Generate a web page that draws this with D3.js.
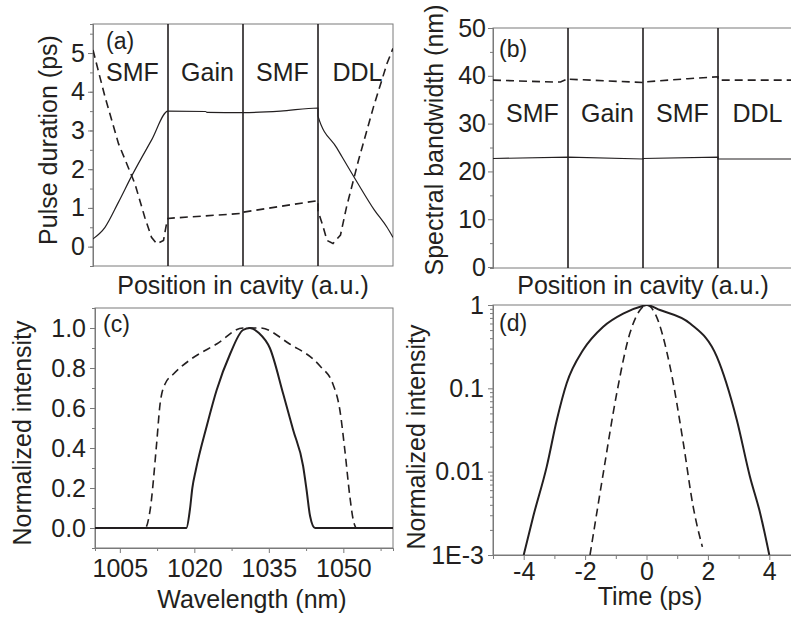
<!DOCTYPE html>
<html>
<head>
<meta charset="utf-8">
<script src="https://cdn.jsdelivr.net/npm/d3@7"></script>
<style>
  body { margin: 0; background: #fff; }
  svg { font-family: "Liberation Sans", Arial, sans-serif; }
  .tick text { fill: #231f20; }
</style>
</head>
<body>
<svg id="fig" width="791" height="618"></svg>
<script>
// cavity sections
var sections = ["SMF", "Gain", "SMF", "DDL"];

// (a) pulse duration vs position
var durSolidX = [0, 0.16, 0.34, 0.52, 0.78, 1.0, 1.5, 1.52, 2.0, 2.5, 3.0, 3.0, 3.25, 3.52, 3.75, 3.92, 4.0];
var durSolidY = [0.2, 0.5, 1.15, 1.84, 2.75, 3.5, 3.49, 3.47, 3.46, 3.5, 3.58, 3.37, 2.55, 1.67, 0.95, 0.5, 0.24];
var durDashX = [0, 0.08, 0.16, 0.34, 0.56, 0.69, 0.78, 0.85, 0.94, 0.98, 1.0, 1.0, 2.0, 2.0, 3.0, 3.0, 3.07, 3.12, 3.2, 3.3, 3.38, 3.54, 3.74, 3.92, 4.0];
var durDashY = [5.08, 4.47, 3.87, 2.66, 1.62, 0.76, 0.24, 0.07, 0.16, 0.59, 0.72, 0.73, 0.86, 0.89, 1.19, 0.93, 0.5, 0.16, 0.08, 0.3, 1.02, 2.23, 3.61, 4.73, 5.12];

// (b) spectral bandwidth vs position
var bwSolidX = [0, 1, 1, 2, 2, 3, 3, 4];
var bwSolidY = [22.7, 23.0, 23.0, 22.6, 22.7, 23.0, 22.6, 22.6];
var bwDashX = [0, 0.8, 0.9, 1.0, 1.0, 2.0, 2.0, 2.6, 3.0, 3.0, 4.0];
var bwDashY = [39.1, 38.7, 38.7, 39.4, 39.3, 38.6, 38.7, 39.4, 39.8, 39.1, 39.1];

// (c) spectra
var specSolidX = [1000, 1018.4, 1019.1, 1019.6, 1020.3, 1022.5, 1024.5, 1027.2, 1029.8, 1031.2, 1033, 1035.2, 1037.9, 1039.9, 1041.9, 1042.6, 1043.3, 1044.3, 1060];
var specSolidY = [0, 0, 0.09, 0.2, 0.29, 0.51, 0.69, 0.87, 0.99, 1.0, 0.975, 0.9, 0.67, 0.49, 0.31, 0.19, 0.06, 0, 0];
var specDashX = [1000, 1010.1, 1011.1, 1012.4, 1013.1, 1014.1, 1015.8, 1019.1, 1024.5, 1029.8, 1031.5, 1033.2, 1039.2, 1045.3, 1047.9, 1049.3, 1050.3, 1051.3, 1052, 1052.7, 1060];
var specDashY = [0, 0, 0.09, 0.42, 0.62, 0.72, 0.77, 0.84, 0.92, 1.0, 1.0, 1.0, 0.92, 0.81, 0.72, 0.59, 0.39, 0.16, 0.04, 0, 0];

// (d) temporal profiles (log)
var tSolid = [-4, -3.69, -3.25, -2.92, -2.6, -2.06, -1.41, -0.76, -0.1, 0, 0.44, 1.42, 2.29, 2.94, 3.37, 3.7, 4.0];
var iSolid = [0.001, 0.0029, 0.0115, 0.042, 0.115, 0.29, 0.55, 0.79, 0.98, 1.0, 0.87, 0.6, 0.24, 0.042, 0.0087, 0.0032, 0.001];
var tDash = [-1.84, -1.41, -0.97, -0.54, -0.21, 0, 0.28, 0.77, 1.2, 1.52, 1.82];
var iDash = [0.001, 0.0095, 0.087, 0.46, 0.87, 1.0, 0.79, 0.18, 0.022, 0.0038, 0.00125];

// tick labels
var durTicks = [0, 1, 2, 3, 4, 5];
var bwTicks = [0, 10, 20, 30, 40, 50];
var specYTicks = [0, 0.2, 0.4, 0.6, 0.8, 1.0];
var specXTicks = [1005, 1020, 1035, 1050];
var timeTicks = [-4, -2, 0, 2, 4];
var logTicks = [1, 0.1, 0.01, 0.001];
var logLabels = ["1", "0.1", "0.01", "1E-3"];

var INK = "#231f20";
var FRAME = "#7a7a7a";
var TICK_FS = 25;
var svg = d3.select("#fig");

function zip(xs, ys) {
  return xs.map(function(x, i) { return [x, ys[i]]; });
}

function plain(d) { return String(d); }

function drawFrame(g, x, y) {
  var r = x.range(), s = y.range();
  g.append("rect")
    .attr("x", r[0]).attr("y", s[1])
    .attr("width", r[1] - r[0]).attr("height", s[0] - s[1])
    .attr("fill", "none").attr("stroke", FRAME).attr("stroke-width", 1);
}

function styleAxis(sel) {
  sel.selectAll(".domain").attr("stroke", FRAME);
  sel.selectAll(".tick line").attr("stroke", FRAME);
  sel.selectAll(".tick text").attr("font-size", TICK_FS + "px").attr("fill", INK);
}

function clipFor(id, x, y) {
  var r = x.range(), s = y.range();
  svg.append("clipPath").attr("id", id).append("rect")
    .attr("x", r[0]).attr("y", s[1])
    .attr("width", r[1] - r[0]).attr("height", s[0] - s[1]);
  return "url(#" + id + ")";
}

function drawLine(g, x, y, pts, dashed, width, curve, clip) {
  var line = d3.line()
    .x(function(d) { return x(d[0]); })
    .y(function(d) { return y(d[1]); })
    .curve(curve || d3.curveLinear);
  g.append("path")
    .datum(pts)
    .attr("d", line)
    .attr("fill", "none")
    .attr("stroke", INK)
    .attr("stroke-width", width)
    .attr("stroke-dasharray", dashed ? "8,5" : null)
    .attr("clip-path", clip);
}

function vLabel(text, cx, cy) {
  svg.append("text")
    .attr("transform", "translate(" + cx + "," + cy + ") rotate(-90)")
    .attr("text-anchor", "middle")
    .attr("font-size", "25px")
    .attr("fill", INK)
    .text(text);
}

function hLabel(text, cx, cy) {
  svg.append("text")
    .attr("x", cx).attr("y", cy)
    .attr("text-anchor", "middle")
    .attr("font-size", "25px")
    .attr("fill", INK)
    .text(text);
}

function panelTag(text, px, py) {
  svg.append("text")
    .attr("x", px).attr("y", py)
    .attr("font-size", "23px")
    .attr("fill", INK)
    .text(text);
}

function sectionLines(g, x, y, labelY) {
  var s = y.range();
  [1, 2, 3].forEach(function(v) {
    g.append("line")
      .attr("x1", x(v)).attr("x2", x(v))
      .attr("y1", s[0]).attr("y2", s[1])
      .attr("stroke", INK).attr("stroke-width", 1.6);
  });
  g.selectAll(".sec").data(sections).enter().append("text")
    .attr("x", function(d, i) { return x(i + 0.5) + 2; })
    .attr("y", labelY)
    .attr("text-anchor", "middle")
    .attr("font-size", "25px")
    .attr("fill", INK)
    .text(function(d) { return d; });
}

// ---------- (a) ----------
(function() {
  var g = svg.append("g");
  var x = d3.scaleLinear().domain([0, 4]).range([93, 393]);
  var y = d3.scaleLinear().domain([-0.5, 5.75]).range([266, 24]);
  var clip = clipFor("clipA", x, y);
  var minor = d3.range(-0.5, 5.75, 0.5);
  g.append("g").attr("transform", "translate(93,0)")
    .call(d3.axisLeft(y).tickValues(minor).tickSize(3).tickFormat(""))
    .call(styleAxis);
  g.append("g").attr("transform", "translate(93,0)")
    .call(d3.axisLeft(y).tickValues(durTicks).tickSize(5).tickPadding(3).tickSizeOuter(0).tickFormat(plain))
    .call(styleAxis);
  drawFrame(g, x, y);
  sectionLines(g, x, y, 81);
  drawLine(g, x, y, zip(durSolidX, durSolidY), false, 1.2, d3.curveMonotoneX, clip);
  drawLine(g, x, y, zip(durDashX, durDashY), true, 1.6, d3.curveLinear, clip);
  panelTag("(a)", 106, 49);
  vLabel("Pulse duration (ps)", 57, 140);
  hLabel("Position in cavity (a.u.)", 243, 294);
})();

// ---------- (b) ----------
(function() {
  var g = svg.append("g");
  var x = d3.scaleLinear().domain([0, 4]).range([493, 793]);
  var y = d3.scaleLinear().domain([-0.2, 50]).range([268, 28]);
  var clip = clipFor("clipB", x, y);
  var minor = d3.range(5, 50, 10);
  g.append("g").attr("transform", "translate(493,0)")
    .call(d3.axisLeft(y).tickValues(minor).tickSize(3).tickFormat(""))
    .call(styleAxis);
  g.append("g").attr("transform", "translate(493,0)")
    .call(d3.axisLeft(y).tickValues(bwTicks).tickSize(5).tickPadding(2).tickSizeOuter(0).tickFormat(plain))
    .call(styleAxis);
  drawFrame(g, x, y);
  sectionLines(g, x, y, 122);
  drawLine(g, x, y, zip(bwSolidX, bwSolidY), false, 1.2, d3.curveLinear, clip);
  drawLine(g, x, y, zip(bwDashX, bwDashY), true, 1.6, d3.curveLinear, clip);
  panelTag("(b)", 499, 57);
  vLabel("Spectral bandwidth (nm)", 443, 140);
  hLabel("Position in cavity (a.u.)", 643, 294);
})();

// ---------- (c) ----------
(function() {
  var g = svg.append("g");
  var x = d3.scaleLinear().domain([1000, 1060]).range([95, 393]);
  var y = d3.scaleLinear().domain([-0.1, 1.1]).range([548, 308]);
  var clip = clipFor("clipC", x, y);
  g.append("g").attr("transform", "translate(95,0)")
    .call(d3.axisLeft(y).tickValues(d3.range(-0.1, 1.1, 0.1)).tickSize(3).tickFormat(""))
    .call(styleAxis);
  g.append("g").attr("transform", "translate(95,0)")
    .call(d3.axisLeft(y).tickValues(specYTicks).tickSize(5).tickPadding(4).tickSizeOuter(0).tickFormat(d3.format(".1f")))
    .call(styleAxis);
  g.append("g").attr("transform", "translate(0,548)")
    .call(d3.axisBottom(x).tickValues([1012.5, 1027.5, 1042.5, 1057.5]).tickSize(3).tickFormat(""))
    .call(styleAxis);
  g.append("g").attr("transform", "translate(0,548)")
    .call(d3.axisBottom(x).tickValues(specXTicks).tickSize(5).tickPadding(6).tickSizeOuter(0).tickFormat(plain))
    .call(styleAxis);
  drawFrame(g, x, y);
  drawLine(g, x, y, zip(specSolidX, specSolidY), false, 2, d3.curveMonotoneX, clip);
  drawLine(g, x, y, zip(specDashX, specDashY), true, 1.6, d3.curveMonotoneX, clip);
  panelTag("(c)", 103, 332);
  vLabel("Normalized intensity", 31, 433);
  hLabel("Wavelength (nm)", 252, 608);
})();

// ---------- (d) ----------
(function() {
  var g = svg.append("g");
  var x = d3.scaleLinear().domain([-5, 5]).range([493, 800]);
  var y = d3.scaleLog().domain([0.001, 1]).range([555, 305]);
  var clip = clipFor("clipD", x, y);
  var minor = [];
  [0.001, 0.01, 0.1].forEach(function(dec) {
    for (var k = 2; k <= 9; k++) minor.push(dec * k);
  });
  g.append("g").attr("transform", "translate(493,0)")
    .call(d3.axisLeft(y).tickValues(minor).tickSize(3).tickFormat(""))
    .call(styleAxis);
  g.append("g").attr("transform", "translate(493,0)")
    .call(d3.axisLeft(y).tickValues(logTicks).tickSize(5).tickPadding(4).tickSizeOuter(0)
      .tickFormat(function(d, i) { return logLabels[i]; }))
    .call(styleAxis);
  g.append("g").attr("transform", "translate(0,555)")
    .call(d3.axisBottom(x).tickValues([-3, -1, 1, 3]).tickSize(4).tickFormat(""))
    .call(styleAxis);
  g.append("g").attr("transform", "translate(0,555)")
    .call(d3.axisBottom(x).tickValues(timeTicks).tickSize(5).tickPadding(2).tickSizeOuter(0).tickFormat(plain))
    .call(styleAxis);
  drawFrame(g, x, y);
  drawLine(g, x, y, zip(tSolid, iSolid), false, 2, d3.curveMonotoneX, clip);
  drawLine(g, x, y, zip(tDash, iDash), true, 1.6, d3.curveMonotoneX, clip);
  panelTag("(d)", 499, 331);
  vLabel("Normalized intensity", 425, 437);
  hLabel("Time (ps)", 650, 605);
})();
</script>
</body>
</html>
